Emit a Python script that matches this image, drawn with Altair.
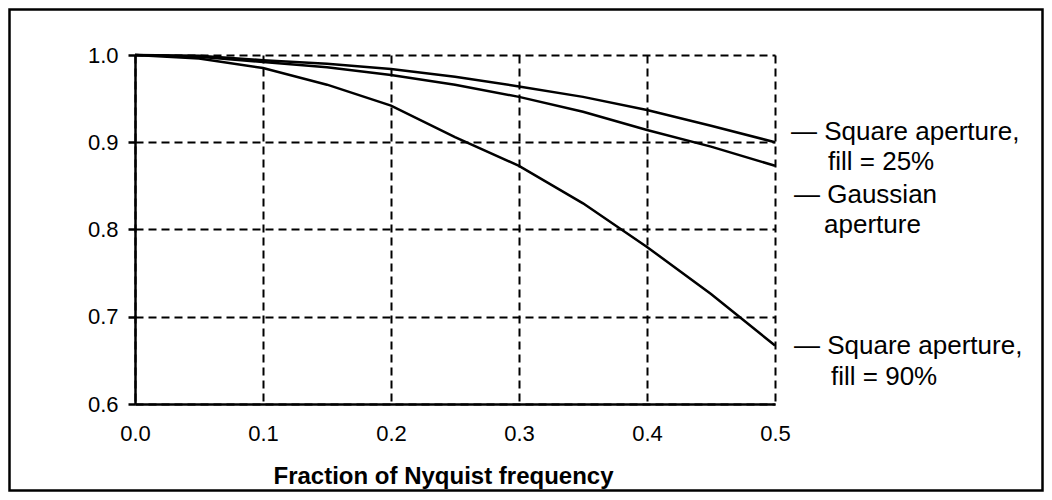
import altair as alt
import pandas as pd

# Fraction of Nyquist frequency
freq = [0.0, 0.05, 0.1, 0.15, 0.2, 0.25, 0.3, 0.35, 0.4, 0.45, 0.5]
sq25 = [1.0, 0.999, 0.994, 0.990, 0.984, 0.975, 0.964, 0.952, 0.937, 0.919, 0.900]
gauss = [1.0, 0.998, 0.992, 0.986, 0.977, 0.966, 0.952, 0.935, 0.914, 0.895, 0.873]
sq90 = [1.0, 0.996, 0.985, 0.966, 0.942, 0.906, 0.873, 0.830, 0.780, 0.726, 0.667]

series_names = ["Square aperture, fill = 25%", "Gaussian aperture", "Square aperture, fill = 90%"]
series_vals = [sq25, gauss, sq90]

label_lines = ["\u2014 Square aperture,", "fill = 25%", "\u2014 Gaussian", "aperture",
               "\u2014 Square aperture,", "fill = 90%"]
label_y = [0.912, 0.877, 0.840, 0.805, 0.666, 0.631]
label_indent = [16, 53, 19, 49, 19, 56]

x_ticks = [0.0, 0.1, 0.2, 0.3, 0.4, 0.5]
y_ticks = [0.6, 0.7, 0.8, 0.9, 1.0]

FONT = "Liberation Sans"
W, H = 640, 349
PAD = {"left": 127, "top": 47, "right": 269, "bottom": 88}

rows = []
for name, vals in zip(series_names, series_vals):
    for f, v in zip(freq, vals):
        rows.append({"series": name, "freq": f, "mtf": v})
df = pd.DataFrame(rows)

lab = pd.DataFrame({"text": label_lines, "y": label_y, "dx": label_indent,
                    "x": [0.5] * len(label_lines)})

xs = alt.Scale(domain=[0, 0.5], nice=False)
ys = alt.Scale(domain=[0.6, 1.0], nice=False, zero=False)

lines = alt.Chart(df).mark_line(color="black", strokeWidth=2.5, clip=False).encode(
    x=alt.X("freq:Q", scale=xs,
            axis=alt.Axis(values=x_ticks, format=".1f", title="Fraction of Nyquist frequency",
                          grid=True, tickSize=0, labelPadding=19, titlePadding=20,
                          labelFlush=False, titleX=308, titleAlign="center")),
    y=alt.Y("mtf:Q", scale=ys,
            axis=alt.Axis(values=y_ticks, format=".1f", title=None, grid=True,
                          tickSize=7, labelPadding=10, labelFlush=False)),
    detail="series:N",
)

labels_chart = alt.layer(*[
    alt.Chart(lab[lab["dx"] == d]).mark_text(align="left", baseline="middle", fontSize=26,
                                             font=FONT, color="black", dx=int(d)).encode(
        x=alt.X("x:Q", scale=xs), y=alt.Y("y:Q", scale=ys), text="text:N")
    for d in sorted(set(label_indent))
])

border = alt.Chart(pd.DataFrame({"k": [0]})).mark_rect(
    filled=False, stroke="black", strokeWidth=2.5).encode(
    x=alt.value(-PAD["left"] + 1.5), x2=alt.value(W + PAD["right"] - 1.5),
    y=alt.value(-PAD["top"] + 1.5), y2=alt.value(H + PAD["bottom"] - 1.5))

chart = alt.layer(lines, labels_chart, border).properties(
    width=W, height=H, padding=PAD, autosize=alt.AutoSizeParams(type="none"),
    background="white"
).configure_view(stroke=None).configure_axis(
    domainColor="black", domainWidth=2.5, tickColor="black", tickWidth=2.5,
    gridColor="black", gridWidth=2, gridDash=[8, 5], gridOpacity=1,
    labelFont=FONT, labelFontSize=22, labelColor="black",
    titleFont=FONT, titleFontSize=24, titleFontWeight="bold", titleColor="black",
)

chart.save("out.html", embed_options={"renderer": "svg", "actions": False})
